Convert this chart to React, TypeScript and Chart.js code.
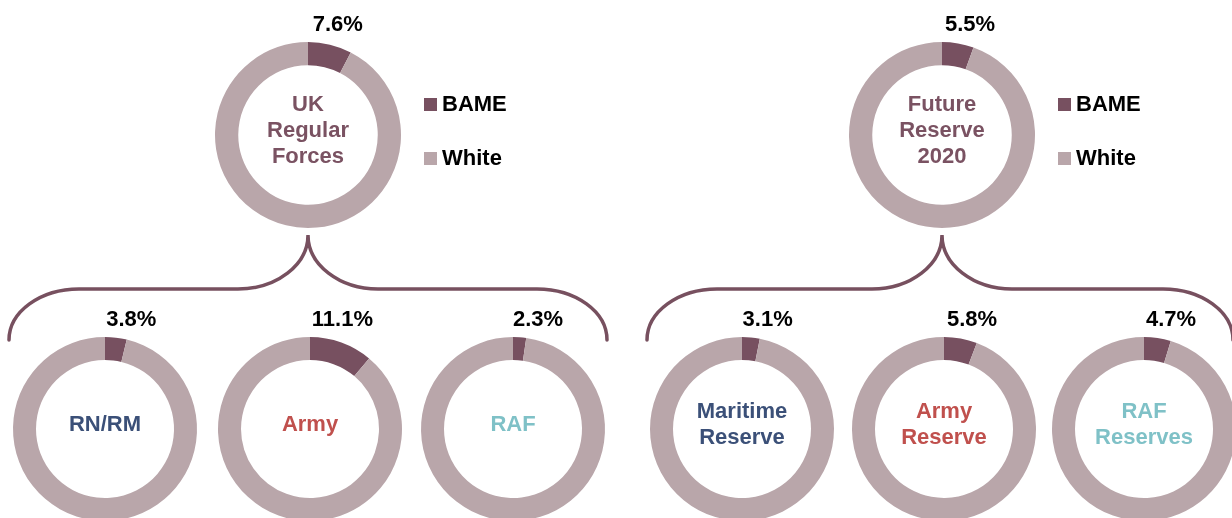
import React, { useEffect, useRef } from 'react';
import { Chart, registerables } from 'chart.js';

Chart.register(...registerables);

// ---------- data ----------
const categories = ['BAME', 'White'];
const chartNames = [
  'UK Regular Forces', 'RN/RM', 'Army', 'RAF',
  'Future Reserve 2020', 'Maritime Reserve', 'Army Reserve', 'RAF Reserves',
];
const centerLines = [
  ['UK', 'Regular', 'Forces'], ['RN/RM'], ['Army'], ['RAF'],
  ['Future', 'Reserve', '2020'], ['Maritime', 'Reserve'], ['Army', 'Reserve'], ['RAF', 'Reserves'],
];
const bameValues = [7.6, 3.8, 11.1, 2.3, 5.5, 3.1, 5.8, 4.7];
const whiteValues = [92.4, 96.2, 88.9, 97.7, 94.5, 96.9, 94.2, 95.3];
const pctLabels = ['7.6%', '3.8%', '11.1%', '2.3%', '5.5%', '3.1%', '5.8%', '4.7%'];

// ---------- styles / layout ----------
const sliceColors = ['#775060', '#b9a6aa'];
const titleColors = ['#7a5262', '#3b5078', '#c0504d', '#7fc1c7', '#7a5262', '#3b5078', '#c0504d', '#7fc1c7'];
const bracketColor = '#77505f';
const FONT = "bold 22px 'Liberation Sans', Arial, sans-serif";
const R_TOP = 93;
const R_BOT = 92;
const centers: [number, number][] = [
  [308, 134.5], [105, 428.5], [310, 428.5], [513, 428.5],
  [942, 134.5], [742, 428.5], [944, 428.5], [1144, 428.5],
];
const brackets = [
  { x0: 9, x1: 607, tip: 308, tipY: 235, hy: 289, endY: 340 },
  { x0: 647, x1: 1233, tip: 942, tipY: 235, hy: 289, endY: 340 },
];

const donutPlugin = {
  id: 'donutDecor',
  afterDraw(chart: any) {
    const o = chart.options.plugins.donutDecor;
    if (!o) return;
    const ctx = chart.ctx;
    const arc = chart.getDatasetMeta(0).data[0];
    const { x, y, outerRadius, startAngle, endAngle } = arc.getProps(['x', 'y', 'outerRadius', 'startAngle', 'endAngle'], true);
    ctx.save();
    ctx.font = FONT;
    ctx.textAlign = 'center';
    ctx.textBaseline = 'middle';
    // percentage label
    const a = (startAngle + endAngle) / 2 + Math.PI / 2;
    ctx.fillStyle = '#000000';
    ctx.fillText(o.pct, x + 0.25 * outerRadius + outerRadius * Math.sin(a) * 0.3, y - outerRadius - 17);
    // centre title
    ctx.fillStyle = o.color;
    const lines: string[] = o.lines;
    const lh = 26;
    const y0 = y - 4 - ((lines.length - 1) * lh) / 2;
    lines.forEach((l, i) => ctx.fillText(l, x, y0 + i * lh));
    // legend
    if (o.legend) {
      const labels = chart.data.labels as string[];
      const colors = chart.data.datasets[0].backgroundColor as string[];
      const rows = [y - 30, y + 24];
      labels.forEach((lab, i) => {
        ctx.fillStyle = colors[i];
        ctx.fillRect(x + 116, rows[i] - 7, 13, 13);
        ctx.fillStyle = '#000000';
        ctx.textAlign = 'left';
        ctx.fillText(lab, x + 134, rows[i]);
      });
    }
    ctx.restore();
  },
};

function Donut({ idx }: { idx: number }) {
  const ref = useRef<HTMLCanvasElement>(null);
  const isTop = idx === 0 || idx === 4;
  const R = isTop ? R_TOP : R_BOT;
  const padL = 20;
  const padR = isTop ? 230 : 20;
  const padT = 45;
  const padB = 10;
  const W = 2 * R + padL + padR;
  const H = 2 * R + padT + padB;
  const [cx, cy] = centers[idx];

  useEffect(() => {
    if (!ref.current) return;
    const chart = new Chart(ref.current, {
      type: 'doughnut',
      data: {
        labels: categories,
        datasets: [{
          label: chartNames[idx],
          data: [bameValues[idx], whiteValues[idx]],
          backgroundColor: sliceColors,
          borderWidth: 0,
        }],
      },
      options: {
        responsive: false,
        maintainAspectRatio: false,
        animation: false,
        cutout: '75%',
        layout: { padding: { left: padL, right: padR, top: padT, bottom: padB } },
        plugins: {
          legend: { display: false },
          tooltip: { enabled: false },
          donutDecor: {
            pct: pctLabels[idx],
            lines: centerLines[idx],
            color: titleColors[idx],
            legend: isTop,
          },
        } as any,
      },
      plugins: [donutPlugin],
    });
    return () => chart.destroy();
  }, [idx]);

  return (
    <canvas
      ref={ref}
      width={W}
      height={H}
      style={{ position: 'absolute', left: cx - R - padL, top: cy - R - padT, width: W, height: H }}
    />
  );
}

function bracketPath(b: typeof brackets[number]) {
  const rx = 70;
  const ryEnd = b.endY - b.hy;
  const ryTip = b.hy - b.tipY;
  return [
    `M ${b.x0} ${b.endY}`,
    `A ${rx} ${ryEnd} 0 0 1 ${b.x0 + rx} ${b.hy}`,
    `H ${b.tip - rx}`,
    `A ${rx} ${ryTip} 0 0 0 ${b.tip} ${b.tipY}`,
    `A ${rx} ${ryTip} 0 0 0 ${b.tip + rx} ${b.hy}`,
    `H ${b.x1 - rx}`,
    `A ${rx} ${ryEnd} 0 0 1 ${b.x1} ${b.endY}`,
  ].join(' ');
}

export default function App() {
  return (
    <div
      style={{
        position: 'fixed', left: 0, top: 0, width: 1232, height: 518,
        overflow: 'hidden', background: '#ffffff',
      }}
    >
      <svg width={1232} height={518} style={{ position: 'absolute', left: 0, top: 0 }}>
        {brackets.map((b, i) => (
          <path key={i} d={bracketPath(b)} fill="none" stroke={bracketColor} strokeWidth={3.5} strokeLinecap="round" />
        ))}
      </svg>
      {chartNames.map((_, i) => (
        <Donut key={i} idx={i} />
      ))}
    </div>
  );
}
